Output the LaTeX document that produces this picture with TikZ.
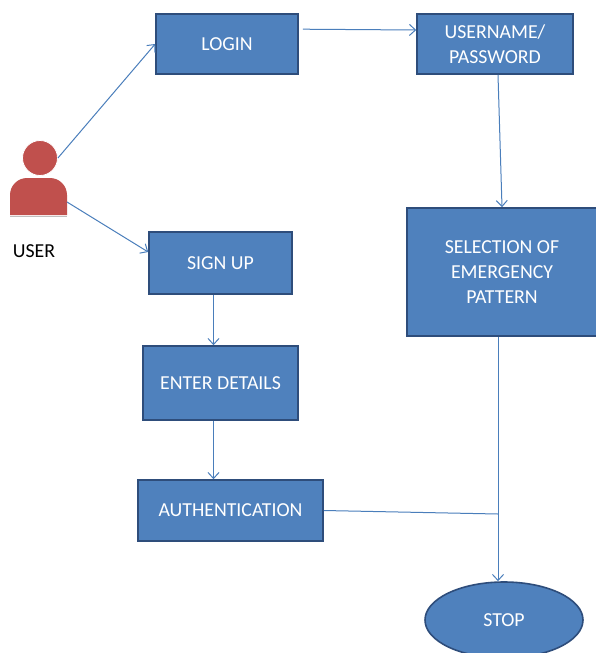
\documentclass[tikz,border=0pt]{standalone}
\usepackage{fontspec}
\setmainfont{Carlito}
\usetikzlibrary{arrows.meta,shapes.geometric}
\definecolor{boxblue}{HTML}{4F81BD}
\definecolor{boxline}{HTML}{2E4D7B}
\definecolor{linkblue}{HTML}{4A7EBB}
\definecolor{userred}{HTML}{C0504D}
\begin{document}
\begin{tikzpicture}[x=1pt,y=-1pt,
  stepbox/.style={draw=boxline,line width=1.6pt,fill=boxblue,text=white,
    font=\fontsize{19.8}{25}\selectfont,align=center,inner sep=0pt},
  linkline/.style={draw=linkblue,line width=1pt},
  link/.style={linkline,-{Straight Barb[length=6pt,width=11pt]}}]

  \useasboundingbox (0,0) rectangle (595,653);

  \node[stepbox,minimum width=142,minimum height=60] (login) at (227,44) {LOGIN};
  \node[stepbox,minimum width=156,minimum height=60] (username) at (495,44) {USERNAME/\\PASSWORD};
  \node[stepbox,minimum width=190,minimum height=128] (selection) at (502,272) {SELECTION OF\\EMERGENCY\\PATTERN};
  \node[stepbox,minimum width=143,minimum height=62] (signup) at (220.5,263) {SIGN UP};
  \node[stepbox,minimum width=155,minimum height=74] (details) at (220.5,383) {ENTER DETAILS};
  \node[stepbox,minimum width=185,minimum height=61] (auth) at (230.5,510.5) {AUTHENTICATION};
  \node[stepbox,ellipse,minimum width=158,minimum height=76] (stop) at (504,620) {STOP};

  \node[circle,fill=userred,draw=white,line width=0.8pt,minimum size=35,inner sep=0pt] (head) at (40,158) {};
  \fill[userred] (10,215) -- (10,195) arc(180:270:17) -- (50,178) arc(270:360:17) -- (67,215) -- cycle;
  \draw[black!25,line width=1pt] (10,216.5) -- (67,216.5);
  \node[font=\fontsize{19.8}{25}\selectfont] (user) at (34,251) {USER};
  \coordinate (body) at (67,202);
  \coordinate (join) at (498,514);

  \draw[link] (head.east) -- (login.west);
  \draw[link] (body) -- ([yshift=11pt]signup.west);
  \draw[link] ([xshift=4pt,yshift=-16pt]login.north east) -- ([yshift=14pt]username.west);
  \draw[link] ([xshift=3pt]username.south) -- (selection.north);
  \draw[link] ([xshift=-7pt]signup.south) -- ([xshift=-7pt]signup.south |- details.north);
  \draw[link] ([xshift=-7pt]details.south) -- ([xshift=-7pt]details.south |- auth.north);
  \draw[link] ([xshift=-4pt]selection.south) -- ([xshift=-4pt]selection.south |- stop.north);
  \draw[linkline] (auth.east) -- (join);

\end{tikzpicture}
\end{document}
